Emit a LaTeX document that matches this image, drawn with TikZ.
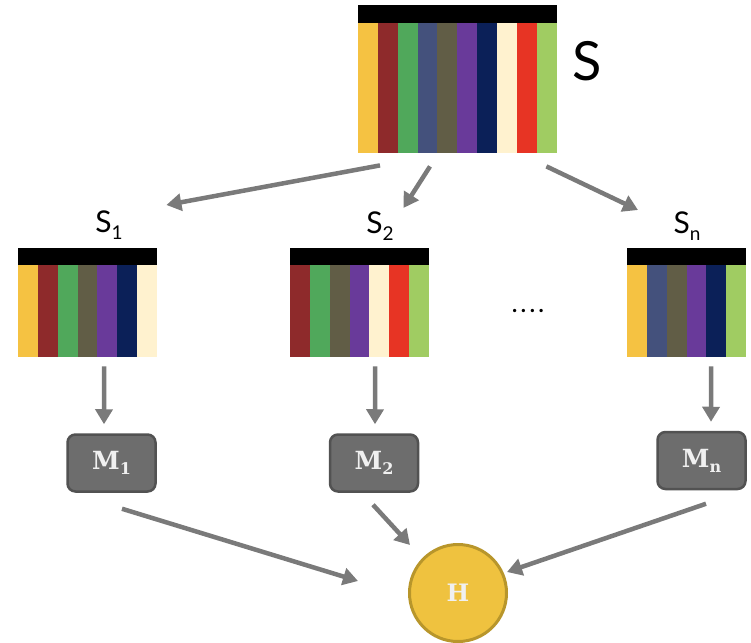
\documentclass[tikz,border=0pt]{standalone}
\usepackage{fontspec}
\setmainfont{Lato}
\newfontfamily\slabfont{DejaVu Serif}
\usetikzlibrary{arrows.meta,calc}

% stripe colours
\definecolor{sYel}{HTML}{F5C242}
\definecolor{sMar}{HTML}{8E2A2B}
\definecolor{sGrn}{HTML}{50A85B}
\definecolor{sSla}{HTML}{44517C}
\definecolor{sOli}{HTML}{615D46}
\definecolor{sPur}{HTML}{693A9A}
\definecolor{sNav}{HTML}{0B2058}
\definecolor{sCrm}{HTML}{FFF2CF}
\definecolor{sRed}{HTML}{E73424}
\definecolor{sLgr}{HTML}{A0CC62}
% node colours
\definecolor{flowgrey}{HTML}{7A7A7A}
\definecolor{modelfill}{HTML}{6D6D6D}
\definecolor{modeledge}{HTML}{525252}
\definecolor{hfill}{HTML}{EFC23F}
\definecolor{hedge}{HTML}{B8962B}
\definecolor{labelwhite}{HTML}{F0F0F0}

\begin{document}
\begin{tikzpicture}[x=1pt, y=-1pt,
  flow/.style={draw=flowgrey, line width=4.5pt,
    -{Triangle[length=15pt, width=17pt]}},
  model/.style={draw=modeledge, fill=modelfill, line width=2.5pt,
    rounded corners=8pt, minimum width=88pt, minimum height=57pt,
    inner sep=0pt, text=labelwhite,
    font=\slabfont\bfseries\fontsize{25}{28}\selectfont},
  hub/.style={circle, draw=hedge, fill=hfill, line width=3pt,
    minimum size=97pt, inner sep=0pt, text=labelwhite,
    font=\slabfont\bfseries\fontsize{24}{28}\selectfont},
  setlabel/.style={anchor=base, inner sep=0pt, font=\fontsize{30}{34}\selectfont},
  block/.style={inner sep=0pt, anchor=north west},
]
\useasboundingbox (0,0) rectangle (751,642);
\def\sw{19.85}

% full set S
\fill[black] (358,5) rectangle ++(10*\sw,18);
\foreach \c [count=\i] in {sYel,sMar,sGrn,sSla,sOli,sPur,sNav,sCrm,sRed,sLgr}
  \fill[\c] ({358+(\i-1)*\sw},23) rectangle ++(\sw,130);
\node[block, minimum width=198.5pt, minimum height=148pt] (S) at (358,5) {};
\node[anchor=base, inner sep=0pt, font=\fontsize{54}{60}\selectfont] (lS) at (587,80) {S};

% subset S1
\fill[black] (18,248) rectangle ++(7*\sw,17);
\foreach \c [count=\i] in {sYel,sMar,sGrn,sOli,sPur,sNav,sCrm}
  \fill[\c] ({18+(\i-1)*\sw},265) rectangle ++(\sw,92);
\node[block, minimum width=139pt, minimum height=109pt] (S1) at (18,248) {};
\node[setlabel] (l1) at (109,232) {S\raisebox{-0.24em}{\fontsize{19}{19}\selectfont 1}};

% subset S2
\fill[black] (290,248) rectangle ++(7*\sw,17);
\foreach \c [count=\i] in {sMar,sGrn,sOli,sPur,sCrm,sRed,sLgr}
  \fill[\c] ({290+(\i-1)*\sw},265) rectangle ++(\sw,92);
\node[block, minimum width=139pt, minimum height=109pt] (S2) at (290,248) {};
\node[setlabel] (l2) at (380,233) {S\raisebox{-0.24em}{\fontsize{19}{19}\selectfont 2}};

% subset Sn
\fill[black] (627,248) rectangle ++(6*\sw,17);
\foreach \c [count=\i] in {sYel,sSla,sOli,sPur,sNav,sLgr}
  \fill[\c] ({627+(\i-1)*\sw},265) rectangle ++(\sw,92);
\node[block, minimum width=119pt, minimum height=109pt] (Sn) at (627,248) {};
\node[setlabel] (ln) at (687,233) {S\raisebox{-0.24em}{\fontsize{19}{19}\selectfont n}};

% ellipsis between the subsets
\node[anchor=base, inner sep=0pt, font=\bfseries\fontsize{22}{24}\selectfont] (dots) at (528,312)
  {.\kern3.6pt.\kern3.6pt.\kern3.6pt.};

% models and combined hypothesis
\node[model] (M1) at (111.5,463) {M\raisebox{-0.2em}{\fontsize{16}{16}\selectfont 1}};
\node[model] (M2) at (374,463) {M\raisebox{-0.2em}{\fontsize{16}{16}\selectfont 2}};
\node[model] (Mn) at (701.5,460.5) {M\raisebox{-0.2em}{\fontsize{16}{16}\selectfont n}};
\node[hub] (H) at (458,593) {H};

% sampling arrows
\draw[flow] ($(S.south west)+(22,12)$) -- ($(S1.north east)+(9,-43)$);
\draw[flow] ($(S.south west)+(72,13)$) -- ($(S2.north east)+(-26,-40)$);
\draw[flow] ($(S.south east)+(-10.5,13)$) -- ($(Sn.north west)+(11,-38)$);

% training arrows
\draw[flow] ($(S1.south)+(16.5,9)$) -- ($(M1.north)+(-7.5,-9)$);
\draw[flow] ($(S2.south)+(15.5,9)$) -- ($(M2.north)+(1,-9)$);
\draw[flow] ($(Sn.south)+(24.5,9)$) -- ($(Mn.north)+(9.5,-9)$);

% combining arrows
\draw[flow] ($(M1.south)+(10.5,16)$) -- ($(H.center)+(-100,-12)$);
\draw[flow] ($(M2.south)+(-1,12)$) -- ($(H.center)+(-48,-48)$);
\draw[flow] ($(Mn.south)+(4.5,13.5)$) -- ($(H.center)+(49,-21)$);
\end{tikzpicture}
\end{document}
